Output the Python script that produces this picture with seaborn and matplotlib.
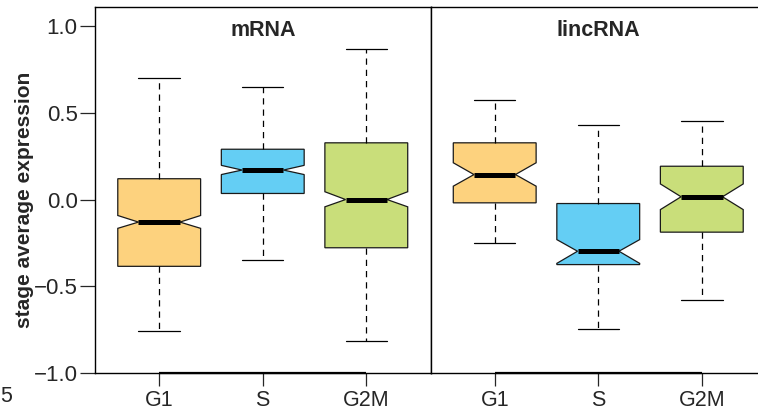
import matplotlib
matplotlib.use("Agg")
import matplotlib.pyplot as plt
import seaborn as sns

stages = ["G1", "S", "G2M"]
stage_colors = ["#FDD27E", "#64CEF4", "#C9DE7A"]
panel_names = ["mRNA", "lincRNA"]

# five-number summaries and notch limits
mrna_whislo = [-0.76, -0.35, -0.817]
mrna_q1 = [-0.385, 0.035, -0.278]
mrna_med = [-0.13, 0.17, 0.0]
mrna_q3 = [0.12, 0.29, 0.327]
mrna_whishi = [0.70, 0.65, 0.868]
mrna_cilo = [-0.166, 0.144, -0.042]
mrna_cihi = [-0.092, 0.197, 0.045]

linc_whislo = [-0.248, -0.749, -0.582]
linc_q1 = [-0.019, -0.375, -0.188]
linc_med = [0.144, -0.298, 0.016]
linc_q3 = [0.327, -0.023, 0.192]
linc_whishi = [0.576, 0.427, 0.45]
linc_cilo = [0.077, -0.368, -0.058]
linc_cihi = [0.212, -0.231, 0.090]

yticks = [-1.0, -0.5, 0.0, 0.5, 1.0]
ytick_labels = ["\u22121.0", "\u22120.5", "0.0", "0.5", "1.0"]


def make_stats(lo, q1, med, q3, hi, cilo, cihi):
    out = []
    for i in range(len(stages)):
        out.append(dict(label=stages[i], whislo=lo[i], q1=q1[i], med=med[i], q3=q3[i],
                        whishi=hi[i], cilo=cilo[i], cihi=cihi[i], fliers=[]))
    return out


panel_stats = [
    make_stats(mrna_whislo, mrna_q1, mrna_med, mrna_q3, mrna_whishi, mrna_cilo, mrna_cihi),
    make_stats(linc_whislo, linc_q1, linc_med, linc_q3, linc_whishi, linc_cilo, linc_cihi),
]

sns.set_style("white")
plt.rcParams["font.family"] = ["Liberation Sans", "DejaVu Sans"]

fig = plt.figure(figsize=(7.58, 4.12), dpi=100)
W, H = 758.0, 412.0
ax_left = [95 / W, 430.5 / W]
ax_w = 335.5 / W
ax_bottom = (H - 373) / H
ax_h = 366 / H

positions = list(range(1, len(stages) + 1))
for p, name in enumerate(panel_names):
    ax = fig.add_axes([ax_left[p], ax_bottom, ax_w, ax_h])
    res = ax.bxp(panel_stats[p], positions=positions, widths=0.8, shownotches=True,
                 patch_artist=True, showfliers=False,
                 boxprops=dict(edgecolor="#1a1a1a", linewidth=0.9),
                 medianprops=dict(color="black", linewidth=3.6, solid_capstyle="butt"),
                 whiskerprops=dict(color="black", linewidth=0.9, linestyle=(0, (5, 4))),
                 capprops=dict(color="black", linewidth=0.9))
    for patch, col in zip(res["boxes"], stage_colors):
        patch.set_facecolor(col)

    ax.set_xlim(0.38, 3.62)
    ax.set_ylim(-1.0, 1.11)
    for s in ax.spines.values():
        s.set_visible(True)
        s.set_color("black")
        s.set_linewidth(1.0)
    ax.hlines(-1.0, positions[0], positions[-1], color="black", lw=1.6, clip_on=False)

    ax.set_xticks(positions)
    ax.set_xticklabels(stages)
    ax.tick_params(axis="x", length=9.5, width=0.9, pad=2.5, labelsize=15.5, bottom=True)
    if p == 0:
        ax.set_yticks(yticks)
        ax.set_yticklabels(ytick_labels)
        ax.tick_params(axis="y", length=11, width=0.9, pad=1.5, labelsize=16, left=True)
    else:
        ax.set_yticks([])
    ax.text(2, 0.972, name, ha="center", va="center", fontsize=15.5, fontweight="bold")

fig.text(25 / W, (H - 200) / H, "stage average expression", rotation=90,
         ha="center", va="center", fontsize=15, fontweight="bold")
fig.text(0.0, (H - 396) / H, "5", ha="left", va="center", fontsize=15.5)

fig.savefig("out.png", dpi=100)
